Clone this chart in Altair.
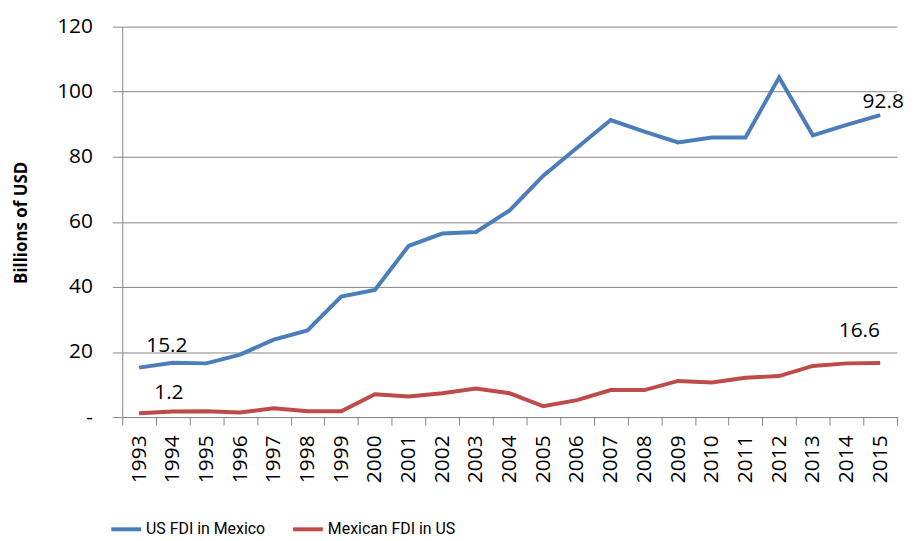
import altair as alt
import pandas as pd

years = [str(y) for y in range(1993, 2016)]
us_fdi = [15.2, 16.7, 16.5, 19.2, 23.8, 26.6, 37.0, 39.1, 52.6, 56.4, 56.9, 63.5,
          74.2, 82.8, 91.3, 87.7, 84.4, 85.9, 85.9, 104.4, 86.6, 89.8, 92.8]
mx_fdi = [1.2, 1.7, 1.8, 1.4, 2.7, 1.8, 1.8, 7.0, 6.3, 7.3, 8.8, 7.3,
          3.3, 5.2, 8.3, 8.3, 11.1, 10.6, 12.1, 12.6, 15.7, 16.5, 16.6]
series_names = ["US FDI in Mexico", "Mexican FDI in US"]
colors = ["#4A7EBB", "#BE4B48"]
y_ticks = [0, 20, 40, 60, 80, 100, 120]

rows = []
for name, vals in zip(series_names, [us_fdi, mx_fdi]):
    for yr, v in zip(years, vals):
        rows.append({"Year": yr, "Value": v, "Series": name})
df = pd.DataFrame(rows)

FONT = "Open Sans"

x_enc = alt.X("Year:O", scale=alt.Scale(type="band", paddingInner=0, paddingOuter=0),
              axis=alt.Axis(title=None, labelAngle=270, labelFontSize=21, labelFont=FONT,
                            labelColor="#000000", tickBand="extent", tickSize=8,
                            tickColor="#868686", domainColor="#868686", labelPadding=10,
                            grid=False, labelAlign="right", labelBaseline="middle"))
y_enc = alt.Y("Value:Q", scale=alt.Scale(domain=[0, 120], nice=False),
              axis=alt.Axis(values=y_ticks, title="Billions of USD", titleFont=FONT,
                            titleFontSize=17, titleFontWeight="bold", titleColor="#000000",
                            titleX=-101, titleY=197, titleAngle=270, titleAlign="center",
                            titleBaseline="middle",
                            labelFontSize=21, labelFont=FONT, labelColor="#000000",
                            labelExpr="datum.value == 0 ? '-' : datum.label",
                            tickSize=10, tickColor="#868686", domainColor="#868686",
                            gridColor="#868686", gridWidth=1, labelPadding=20))

lines = alt.Chart(df).mark_line(strokeWidth=4).encode(
    x=x_enc, y=y_enc,
    color=alt.Color("Series:N", scale=alt.Scale(domain=series_names, range=colors),
                    legend=alt.Legend(title=None, orient="none", legendX=-13, legendY=489,
                                      direction="horizontal", symbolType="stroke",
                                      symbolSize=900, symbolStrokeWidth=4,
                                      labelFont="Roboto", labelFontSize=16,
                                      labelColor="#000000", labelOffset=3,
                                      columnPadding=20, padding=0)),
)

def label(series, year, dx, dy):
    return alt.Chart(df).transform_filter(
        (alt.datum.Series == series) & (alt.datum.Year == year)
    ).mark_text(font=FONT, fontSize=21, color="#000000", dx=dx, dy=dy,
                align="center", baseline="alphabetic").encode(
        x=alt.X("Year:O"), y=alt.Y("Value:Q"), text=alt.Text("Value:Q", format=".1f"))

chart = alt.layer(
    lines,
    label(series_names[0], "1993", 28, -16),
    label(series_names[1], "1993", 30, -14),
    label(series_names[0], "2015", 3, -7),
    label(series_names[1], "2015", -21, -26),
).properties(
    width=780, height=393,
    autosize=alt.AutoSizeParams(type="none"),
    padding={"left": 115, "top": 17, "right": 10, "bottom": 122},
).configure_view(stroke=None)

chart.save("out.html", embed_options={"renderer": "svg", "actions": False})
